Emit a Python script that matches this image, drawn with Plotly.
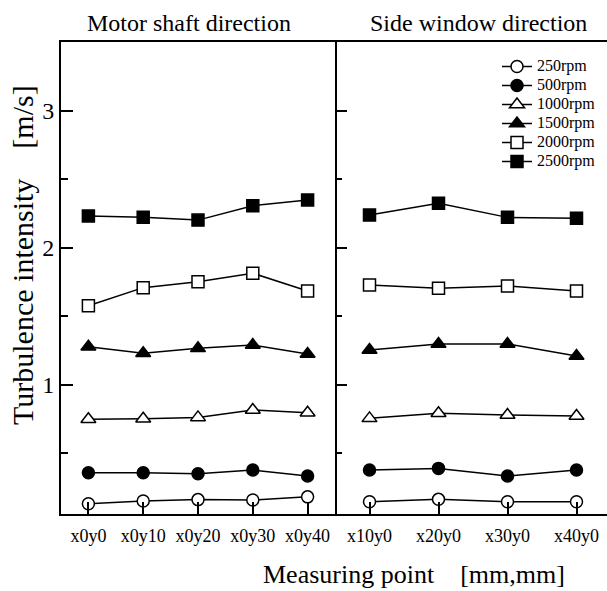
import plotly.graph_objects as go

# ---- data ----
left_points = ["x0y0", "x0y10", "x0y20", "x0y30", "x0y40"]
right_points = ["x10y0", "x20y0", "x30y0", "x40y0"]
series_names = ["250rpm", "500rpm", "1000rpm", "1500rpm", "2000rpm", "2500rpm"]

left_250 = [0.13, 0.15, 0.16, 0.157, 0.18]
left_500 = [0.356, 0.356, 0.349, 0.376, 0.332]
left_1000 = [0.746, 0.750, 0.760, 0.814, 0.794]
left_1500 = [1.276, 1.228, 1.264, 1.288, 1.223]
left_2000 = [1.575, 1.707, 1.750, 1.812, 1.682]
left_2500 = [2.23, 2.22, 2.20, 2.305, 2.347]

right_250 = [0.145, 0.162, 0.145, 0.145]
right_500 = [0.376, 0.388, 0.332, 0.376]
right_1000 = [0.753, 0.790, 0.777, 0.770]
right_1500 = [1.252, 1.296, 1.296, 1.208]
right_2000 = [1.726, 1.702, 1.719, 1.682]
right_2500 = [2.237, 2.323, 2.220, 2.213]

left_values = [left_250, left_500, left_1000, left_1500, left_2000, left_2500]
right_values = [right_250, right_500, right_1000, right_1500, right_2000, right_2500]

symbols = ["circle", "circle", "triangle-up", "triangle-up", "square", "square"]
fills = ["white", "black", "white", "black", "white", "black"]
sizes = [12, 12, 13, 13, 12, 12]

FONT = "Liberation Serif, Times New Roman, serif"

fig = go.Figure()
for i, name in enumerate(series_names):
    mk = dict(symbol=symbols[i], size=sizes[i], color=fills[i],
              line=dict(color="black", width=1.5))
    fig.add_trace(go.Scatter(x=list(range(len(left_points))), y=left_values[i],
                             mode="lines+markers",
                             name="<span style='font-size:16px'>" + name + "</span>",
                             legendgroup=name,
                             line=dict(color="black", width=1.5), marker=mk,
                             xaxis="x", yaxis="y", showlegend=True))
    fig.add_trace(go.Scatter(x=list(range(len(right_points))), y=right_values[i],
                             mode="lines+markers", name=name, legendgroup=name,
                             line=dict(color="black", width=1.5), marker=mk,
                             xaxis="x2", yaxis="y2", showlegend=False))

W, H = 607, 591
ml, mt, mb, mr = 61, 42, 77, 0
pw = W - ml - mr
ph = H - mt - mb
split = (335 - ml) / pw
YR = [0.055, 3.5]

common_x = dict(showline=True, linecolor="black", linewidth=2, mirror=True,
                ticks="inside", ticklen=12, tickwidth=1.5, tickcolor="black",
                showgrid=False, zeroline=False, ticklabelstandoff=4,
                tickfont=dict(family=FONT, size=18, color="black"))
minor_ticks = dict(tickvals=[0.5, 1.5, 2.5], ticks="inside", ticklen=7,
                   tickwidth=1.5, tickcolor="black", showgrid=False)
fig.update_layout(
    width=W, height=H,
    margin=dict(l=ml, r=mr, t=mt, b=mb),
    paper_bgcolor="white", plot_bgcolor="white",
    font=dict(family=FONT, color="black"),
    xaxis=dict(domain=[0, split], range=[-0.5, 4.5],
               tickvals=list(range(len(left_points))), ticktext=left_points, **common_x),
    xaxis2=dict(domain=[split, 1], range=[-0.5, -0.5 + (W - 335) / 69.0],
                tickvals=list(range(len(right_points))), ticktext=right_points, **common_x),
    yaxis=dict(domain=[0, 1], range=YR, showline=True, linecolor="black",
               linewidth=2, mirror=True, ticks="inside", ticklen=12, tickwidth=1.5,
               tickcolor="black", tickvals=[1, 2, 3], showgrid=False, zeroline=False,
               minor=minor_ticks,
               tickfont=dict(family=FONT, size=24, color="black")),
    yaxis2=dict(domain=[0, 1], range=YR, anchor="x2", showline=False,
                mirror=False, ticks="inside", ticklen=12, tickwidth=1.5,
                tickcolor="black", tickvals=[1, 2, 3], showgrid=False, zeroline=False,
                showticklabels=False, minor=minor_ticks),
    yaxis3=dict(range=YR, anchor="x2", overlaying="y2", side="right", showline=False,
                ticks="inside", ticklen=5, tickwidth=1.5, tickcolor="black",
                tickvals=[1, 2, 3], showgrid=False, zeroline=False, showticklabels=False,
                minor=dict(tickvals=[0.5, 1.5, 2.5], ticks="inside", ticklen=2,
                           tickwidth=1.5, tickcolor="black", showgrid=False)),
    legend=dict(x=(497 - ml) / pw, y=(514 - 52) / ph, xanchor="left", yanchor="top",
                bgcolor="rgba(0,0,0,0)", borderwidth=0,
                font=dict(family=FONT, size=12, color="black"),
                tracegroupgap=0),
    showlegend=True,
)

fig.add_annotation(text="Motor shaft direction", xref="paper", yref="paper",
                   x=(189 - ml) / pw, y=1, xanchor="center", yanchor="bottom", yshift=4,
                   showarrow=False, font=dict(family=FONT, size=24, color="black"))
fig.add_annotation(text="Side window direction", xref="paper", yref="paper",
                   x=(479 - ml) / pw, y=1, xanchor="center", yanchor="bottom", yshift=4,
                   showarrow=False, font=dict(family=FONT, size=24, color="black"))
fig.add_annotation(text="Turbulence intensity    [m/s]", xref="paper", yref="paper",
                   x=(22 - ml) / pw, y=(514 - 255) / ph, textangle=-90,
                   xanchor="center", yanchor="middle", showarrow=False,
                   font=dict(family=FONT, size=30, color="black"))
fig.add_annotation(text="Measuring point    [mm,mm]", xref="paper", yref="paper",
                   x=(414 - ml) / pw, y=(514 - 574) / ph,
                   xanchor="center", yanchor="middle", showarrow=False,
                   font=dict(family=FONT, size=26, color="black"))

fig.write_html("out.html", config={"displayModeBar": False},
               post_script="document.body.style.margin='0';document.body.style.padding='0';")
